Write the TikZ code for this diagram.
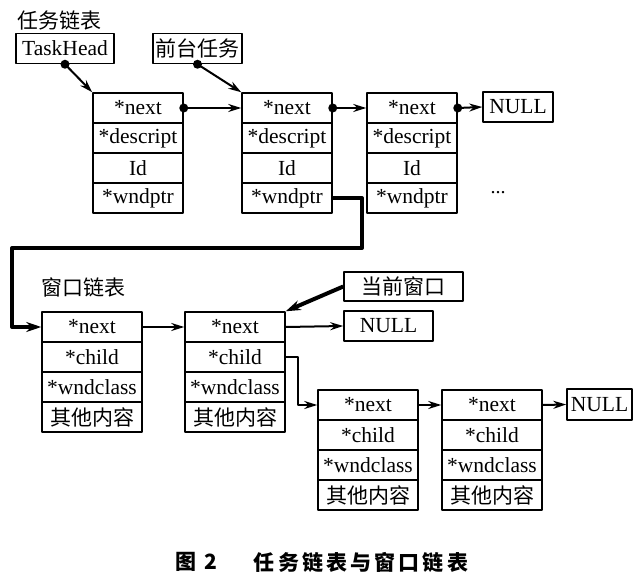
\documentclass[tikz,border=0pt]{standalone}
\usepackage{fontspec}
\setmainfont{Liberation Serif}
\newfontfamily\cjk{Noto Sans CJK SC}
\newfontfamily\capfont{Noto Sans CJK SC}[LetterSpace=15]
\usetikzlibrary{arrows.meta}
\begin{document}
\begin{tikzpicture}[x=1pt,y=-1pt,line join=round,>={Stealth[length=13pt,width=8pt]}]
	\tikzset{cell/.style={draw,line width=1.5pt,minimum width=90pt,minimum height=30pt,inner sep=0pt,font=\fontsize{21.5}{22}\selectfont},
		wcell/.style={cell,minimum width=100pt},
		tag/.style={draw,line width=1.5pt,minimum height=30pt,inner sep=0pt,font=\fontsize{21.5}{22}\selectfont},
		zh/.style={font=\cjk\fontsize{21}{24}\selectfont},
		link/.style={->,line width=2pt},
		heavy/.style={-{Stealth[length=15pt,width=10pt]},line width=4pt},
		dot/.style={fill,circle,inner sep=0pt,minimum size=9pt}}
	\useasboundingbox (0,0) rectangle (638,572);
	% task list
	\node[zh,anchor=west] (tlist) at (14,20) {任务链表};
	\node[tag,minimum width=98pt] (head) at (65,48.5) {TaskHead};
	\node[tag,zh,minimum width=89pt] (fore) at (197.5,48.5) {前台任务};
	\foreach \b/\x in {t1/138,t2/287,t3/412}
	\foreach \f [count=\i] in {*next,*descript,Id,*wndptr}
	\node[cell] (\b-\i) at (\x,78+30*\i) {\f};
	\node[tag,minimum width=70pt] (null1) at (518,107) {NULL};
	\node[font=\fontsize{20}{22}\selectfont] (more) at (498,193) {...};
	\draw[link] (head.south) node[dot] (d1) {} -- (t1-1.north west);
	\draw[link] (fore.south) node[dot] (d2) {} -- (t2-1.north west);
	\draw[link] (t1-1.east) node[dot] (d3) {} -- (t2-1.west);
	\draw[link] (t2-1.east) node[dot] (d4) {} -- (t3-1.west);
	\draw[link] (t3-1.east) node[dot] (d5) {} -- (null1.west);
	% window list
	\node[zh,anchor=west] (wlist) at (38,287) {窗口链表};
	\foreach \b/\x/\y in {w1/92/312,w2/235/312,w3/368/390,w4/492/390}
	\foreach \f [count=\i] in {*next,*child,*wndclass,{\cjk\fontsize{21}{22}\selectfont 其他内容}}
	\node[wcell] (\b-\i) at (\x,\y-15+30*\i) {\f};
	\node[tag,zh,minimum width=119pt,minimum height=29pt] (cur) at (403.5,286.5) {当前窗口};
	\node[tag,minimum width=89pt] (null2) at (388.5,326) {NULL};
	\node[tag,minimum width=65pt,minimum height=31pt] (null3) at (599.5,404.5) {NULL};
	\draw[heavy] (t2-4.east) -| (362,248) -| (12,327) -- (w1-1.west);
	\draw[link] (w1-1.east) -- (w2-1.west);
	\draw[link] (w2-1.east) -- (null2.west);
	\draw[heavy] (cur.west) -- (w2-1.north east);
	\draw[link] (w2-2.east) -- ++(12,0) |- (w3-1.west);
	\draw[link] (w3-1.east) -- (w4-1.west);
	\draw[link] (w4-1.east) -- (null3.west);
	% caption
	\node[font=\capfont\bfseries\fontsize{21}{24}\selectfont] (fig) at (196,562) {图 2};
	\node[font=\capfont\bfseries\fontsize{21}{24}\selectfont] (cap) at (361,562) {任务链表与窗口链表};
\end{tikzpicture}
\end{document}
